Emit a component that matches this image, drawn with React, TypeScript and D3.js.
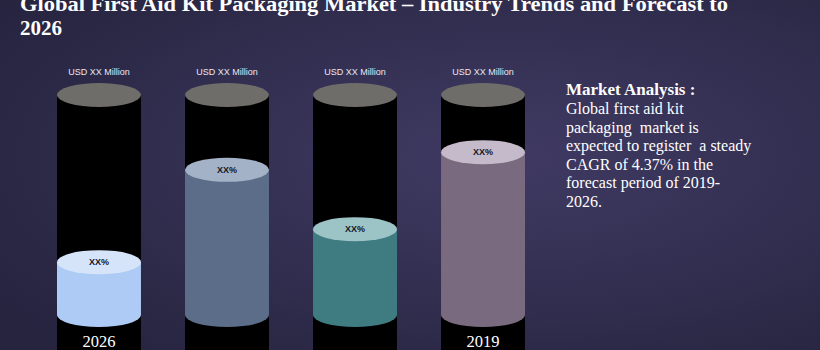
import React, { useEffect, useRef } from "react";
import * as d3 from "d3";

const columns = ["c1", "c2", "c3", "c4"];
const yearLabels = ["2026", "", "", "2019"];
const valueLabels = ["USD XX Million", "USD XX Million", "USD XX Million", "USD XX Million"];
const shareValues = [24, 66, 39, 74];
const shareLabels = ["XX%", "XX%", "XX%", "XX%"];

const titleLines = [
  "Global First Aid Kit Packaging Market – Industry Trends and Forecast to",
  "2026",
];
const analysisHeading = "Market Analysis :";
const analysisLines = [
  "Global first aid kit",
  "packaging  market is",
  "expected to register  a steady",
  "CAGR of 4.37% in the",
  "forecast period of 2019-",
  "2026.",
];

const bodyColors = ["#aecbf5", "#5c6d8a", "#3e7c82", "#7a6a80"];
const capColors = ["#d6e4fa", "#a3b2c6", "#9cc4c7", "#c5bac9"];

const W = 820;
const H = 350;

const App: React.FC = () => {
  const ref = useRef<SVGSVGElement>(null);

  useEffect(() => {
    if (!ref.current) return;
    const svg = d3.select(ref.current);
    svg.selectAll("*").remove();

    const defs = svg.append("defs");
    const bg = defs
      .append("radialGradient")
      .attr("id", "bg")
      .attr("cx", 0.62)
      .attr("cy", 0.45)
      .attr("r", 0.75);
    bg.append("stop").attr("offset", "0%").attr("stop-color", "#403a63");
    bg.append("stop").attr("offset", "100%").attr("stop-color", "#26243f");

    svg.append("rect").attr("width", W).attr("height", H).attr("fill", "url(#bg)");

    // title (top line is clipped by the frame, as in the source slide)
    const title = svg.append("g");
    title
      .append("text")
      .attr("x", 20)
      .attr("y", 11)
      .attr("fill", "#ffffff")
      .attr("font-family", "'Liberation Serif', serif")
      .attr("font-weight", "bold")
      .attr("font-size", 21)
      .attr("textLength", 708)
      .attr("lengthAdjust", "spacingAndGlyphs")
      .text(titleLines[0]);
    title
      .append("text")
      .attr("x", 20)
      .attr("y", 35)
      .attr("fill", "#ffffff")
      .attr("font-family", "'Liberation Serif', serif")
      .attr("font-weight", "bold")
      .attr("font-size", 21)
      .text(titleLines[1]);

    const baseY = 315;
    const topY = 95;
    const ry = 12;

    const x = d3
      .scaleBand()
      .domain(columns)
      .range([57, 525])
      .paddingInner(0.344)
      .paddingOuter(0);
    const y = d3.scaleLinear().domain([0, 100]).range([baseY, topY]);
    const bw = x.bandwidth();
    const rx = bw / 2;

    const col = svg
      .append("g")
      .selectAll("g")
      .data(columns)
      .enter()
      .append("g")
      .attr("transform", (d) => `translate(${x(d) || 0},0)`);

    // empty tube
    col
      .append("rect")
      .attr("x", 0)
      .attr("y", topY)
      .attr("width", bw)
      .attr("height", H - topY + 10)
      .attr("fill", "#000000");
    col
      .append("ellipse")
      .attr("cx", rx)
      .attr("cy", topY)
      .attr("rx", rx)
      .attr("ry", ry)
      .attr("fill", "#6f6d69");
    col
      .append("text")
      .attr("x", rx)
      .attr("y", 75)
      .attr("text-anchor", "middle")
      .attr("fill", "#e8e8ee")
      .attr("font-family", "'Liberation Sans', Arial, sans-serif")
      .attr("font-size", 9)
      .text((_, i) => valueLabels[i]);

    // filled part
    col
      .append("ellipse")
      .attr("cx", rx)
      .attr("cy", baseY)
      .attr("rx", rx)
      .attr("ry", ry)
      .attr("fill", (_, i) => bodyColors[i]);
    col
      .append("rect")
      .attr("x", 0)
      .attr("y", (_, i) => y(shareValues[i]))
      .attr("width", bw)
      .attr("height", (_, i) => baseY - y(shareValues[i]))
      .attr("fill", (_, i) => bodyColors[i]);
    col
      .append("ellipse")
      .attr("cx", rx)
      .attr("cy", (_, i) => y(shareValues[i]))
      .attr("rx", rx)
      .attr("ry", ry)
      .attr("fill", (_, i) => capColors[i]);
    col
      .append("text")
      .attr("x", rx)
      .attr("y", (_, i) => y(shareValues[i]) + 3)
      .attr("text-anchor", "middle")
      .attr("fill", "#15151f")
      .attr("font-family", "'Liberation Sans', Arial, sans-serif")
      .attr("font-weight", "bold")
      .attr("font-size", 9)
      .text((_, i) => shareLabels[i]);

    col
      .append("text")
      .attr("x", rx)
      .attr("y", 347)
      .attr("text-anchor", "middle")
      .attr("fill", "#ffffff")
      .attr("font-family", "'Liberation Serif', serif")
      .attr("font-size", 16.5)
      .text((_, i) => yearLabels[i]);

    // market analysis text
    const note = svg.append("g").attr("transform", "translate(566,0)");
    note
      .append("text")
      .attr("x", 0)
      .attr("y", 95)
      .attr("fill", "#ffffff")
      .attr("font-family", "'Liberation Serif', serif")
      .attr("font-weight", "bold")
      .attr("font-size", 17)
      .text(analysisHeading);
    note
      .selectAll("text.line")
      .data(analysisLines)
      .enter()
      .append("text")
      .attr("class", "line")
      .attr("x", 0)
      .attr("y", (_, i) => 114 + i * 18.6)
      .attr("fill", "#ffffff")
      .attr("font-family", "'Liberation Serif', serif")
      .attr("font-size", 16)
      .style("white-space", "pre")
      .text((d) => d);
  }, []);

  return (
    <svg
      ref={ref}
      width={W}
      height={H}
      style={{ position: "absolute", left: 0, top: 0, display: "block" }}
    />
  );
};

export default App;
